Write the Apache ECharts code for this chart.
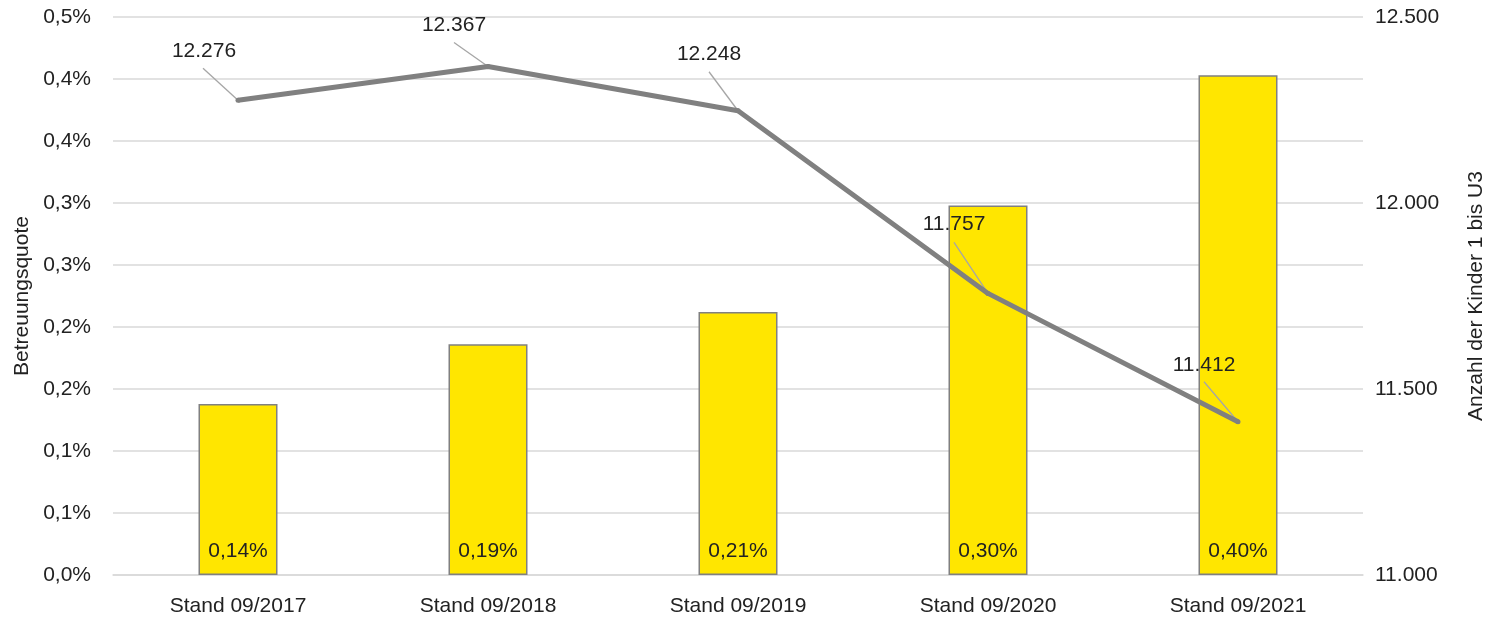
<!DOCTYPE html>
<html>
<head>
<meta charset="utf-8">
<script src="https://cdn.jsdelivr.net/npm/echarts@6/dist/echarts.min.js"></script>
<style>
  html, body { margin: 0; padding: 0; background: #fff; }
  #main { width: 1487px; height: 622px; }
</style>
</head>
<body>
<div id="main"></div>
<script>
// Daten
const categories = ['Stand 09/2017', 'Stand 09/2018', 'Stand 09/2019', 'Stand 09/2020', 'Stand 09/2021'];
const quote = [0.138, 0.186, 0.212, 0.298, 0.403];   // Betreuungsquote in %
const kinder = [12276, 12367, 12248, 11757, 11412];  // Anzahl der Kinder 1 bis U3
// Versatz der Beschriftungen und Führungslinien (Pixel) relativ zum Punkt
const labelShift = [[-34, -49], [-34, -41], [-29, -57], [-34, -69], [-34, -57]];
const leaderStart = [[-35, -32], [-34, -24], [-29, -39], [-34, -51], [-34, -40]];

const FONT = 'Liberation Sans';
const FS = 21;
const fmtThousand = v => String(Math.round(v)).replace(/\B(?=(\d{3})+(?!\d))/g, '.');

const chart = echarts.init(document.getElementById('main'));

const option = {
  backgroundColor: '#fff',
  animation: false,
  textStyle: { fontFamily: FONT },
  grid: { left: 113, right: 124, top: 17, bottom: 47, outerBoundsMode: 'none', containLabel: false },
  xAxis: {
    type: 'category',
    data: categories,
    axisTick: { show: false },
    axisLine: { lineStyle: { color: '#d9d9d9', width: 1.5 } },
    axisLabel: { color: '#222', fontSize: FS, margin: 21, fontFamily: FONT }
  },
  yAxis: [
    {
      type: 'value',
      min: 0, max: 0.45, interval: 0.05,
      name: 'Betreuungsquote',
      nameLocation: 'middle',
      nameRotate: 90,
      nameGap: 80,
      nameTextStyle: { color: '#222', fontSize: FS, fontFamily: FONT },
      axisLine: { show: false },
      axisTick: { show: false },
      axisLabel: {
        color: '#222', fontSize: FS, margin: 22, fontFamily: FONT,
        formatter: v => (Math.round(v * 10 + 1e-9) / 10).toFixed(1).replace('.', ',') + '%'
      },
      splitLine: { lineStyle: { color: '#d9d9d9', width: 1.5 } }
    },
    {
      type: 'value',
      min: 11000, max: 12500, interval: 500,
      name: 'Anzahl der Kinder 1 bis U3',
      nameLocation: 'middle',
      nameRotate: 90,
      nameGap: 103,
      nameTextStyle: { color: '#222', fontSize: FS, fontFamily: FONT },
      axisLine: { show: false },
      axisTick: { show: false },
      axisLabel: { color: '#222', fontSize: FS, margin: 12, fontFamily: FONT, formatter: fmtThousand },
      splitLine: { show: false }
    }
  ],
  series: [
    {
      name: 'Betreuungsquote',
      type: 'bar',
      yAxisIndex: 0,
      data: quote,
      barWidth: 79,
      itemStyle: { color: '#ffe600', borderColor: '#808080', borderWidth: 1.5 },
      label: {
        show: true,
        position: 'insideBottom',
        distance: 13,
        color: '#222',
        fontSize: FS,
        fontFamily: FONT,
        formatter: p => p.value.toFixed(2).replace('.', ',') + '%'
      },
      z: 2
    },
    {
      // Führungslinien zu den Datenbeschriftungen
      type: 'custom',
      yAxisIndex: 1,
      data: kinder,
      silent: true,
      renderItem: (params, api) => {
        const i = params.dataIndex;
        const pt = api.coord([i, api.value(0)]);
        return {
          type: 'line',
          shape: { x1: pt[0] + leaderStart[i][0], y1: pt[1] + leaderStart[i][1], x2: pt[0], y2: pt[1] },
          style: { stroke: '#a6a6a6', lineWidth: 1.3 }
        };
      },
      encode: { x: -1, y: 0 },
      z: 4
    },
    {
      name: 'Anzahl der Kinder 1 bis U3',
      type: 'line',
      yAxisIndex: 1,
      data: kinder,
      symbol: 'circle',
      symbolSize: 5,
      showSymbol: true,
      itemStyle: { color: '#808080' },
      lineStyle: { color: '#808080', width: 5 },
      label: {
        show: true,
        position: 'inside',
        color: '#222',
        fontSize: FS,
        fontFamily: FONT,
        formatter: p => fmtThousand(p.value)
      },
      labelLayout: p => ({ dx: labelShift[p.dataIndex][0], dy: labelShift[p.dataIndex][1] }),
      z: 5
    }
  ]
};

chart.setOption(option);
</script>
</body>
</html>
